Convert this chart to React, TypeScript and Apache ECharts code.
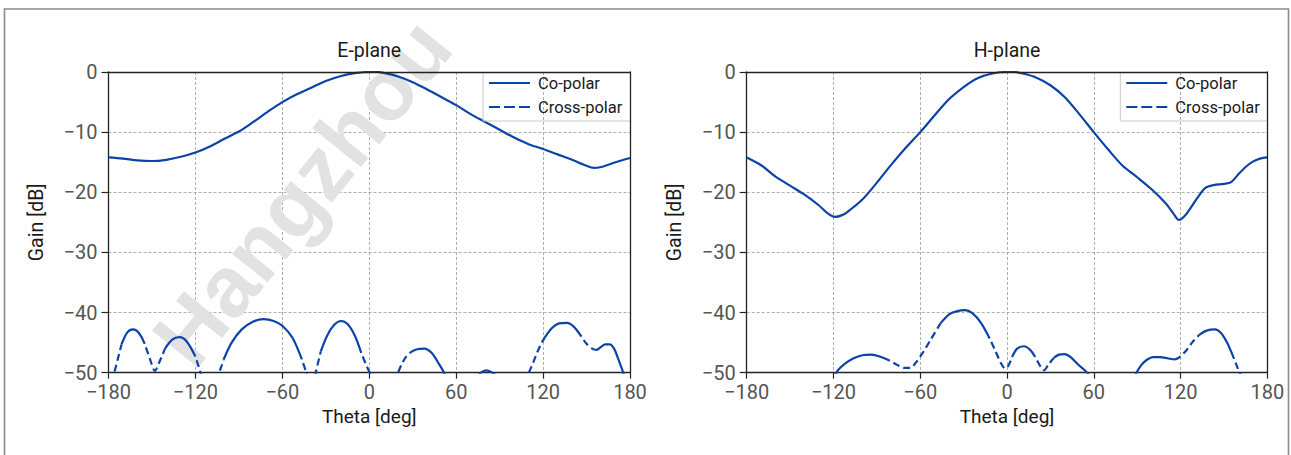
import React, { useEffect, useRef } from "react";
import * as echarts from "echarts";

// ---------- data ----------
const planeTitles = ["E-plane", "H-plane"];
const legendNames = ["Co-polar", "Cross-polar"];

const eCoPolar: [number, number][] = [
  [-180, -14.2], [-170, -14.4], [-160, -14.7], [-150, -14.8], [-140, -14.6],
  [-130, -14.1], [-120, -13.4], [-110, -12.4], [-100, -11.1], [-90, -9.9],
  [-80, -8.3], [-70, -6.6], [-60, -5.0], [-50, -3.7], [-40, -2.6],
  [-30, -1.5], [-20, -0.7], [-10, -0.2], [0, 0], [5, 0], [10, -0.15],
  [20, -0.75], [30, -1.7], [40, -2.9], [50, -4.2], [60, -5.5], [70, -7.0],
  [80, -8.3], [90, -9.6], [100, -10.9], [110, -12.0], [120, -12.8],
  [130, -13.7], [140, -14.6], [150, -15.6], [155, -15.95], [160, -15.8],
  [170, -15.0], [180, -14.3],
];

const eCrossPolar: [number, number][] = [
  [-180, -54], [-176, -50], [-171, -45.3], [-167, -43.3], [-163, -42.8],
  [-159, -43.4], [-155, -45.2], [-151, -48.0], [-148, -49.7], [-145, -48.3],
  [-141, -46.0], [-136, -44.5], [-131, -44.1], [-126, -44.8], [-120, -47.3],
  [-118, -48.8], [-116, -50.4], [-110, -55], [-104, -50.3], [-102, -48.9],
  [-100.5, -47.8], [-95, -45.0], [-88, -42.8], [-80, -41.5], [-73, -41.1],
  [-66, -41.4], [-60, -42.2], [-53, -44.2], [-46.5, -47.8], [-43.5, -50],
  [-40, -53], [-37, -50], [-33.5, -46.5], [-29, -43.8], [-24, -42.0],
  [-19.5, -41.4], [-15, -41.9], [-10, -43.8], [-5.5, -46.7], [-2.5, -48.5],
  [0.5, -50.1], [10, -58], [19, -50.5], [22, -48.8], [25, -47.5],
  [28.5, -46.6], [33, -46.1], [38, -46.0], [43, -46.7], [48, -48.5],
  [52, -50.2], [63, -57], [74, -51], [77, -50], [81, -49.6], [85, -50],
  [89, -51], [99, -57], [109, -50.6], [112, -49], [115, -47.2], [118, -45.5],
  [121, -44.2], [126, -42.6], [131, -41.8], [136.5, -41.7], [141, -42.3],
  [146.5, -44.0], [150, -45.2], [154.5, -46.1], [157, -46.2], [160, -45.7],
  [163, -45.3], [166, -45.3], [169, -46.0], [172, -47.8], [175.7, -50.3],
  [180, -55],
];
// theta ranges where the cross-polar trace shows as dashes
const eCrossDashed: [number, number][] = [
  [-180, -171], [-155, -141], [-120, -116], [-104, -100.5], [-46.5, -33.5],
  [-5.5, 0.5], [19, 28.5], [109, 121], [146.5, 154.5],
];

const hCoPolar: [number, number][] = [
  [-180, -14.2], [-170, -15.5], [-160, -17.4], [-150, -18.9], [-140, -20.4],
  [-130, -22.2], [-124, -23.5], [-119, -24.1], [-114, -23.8], [-110, -23.2],
  [-100, -21.2], [-90, -18.4], [-80, -15.4], [-70, -12.6], [-60, -10.0],
  [-50, -7.2], [-40, -4.5], [-30, -2.5], [-20, -1.0], [-10, -0.25], [0, 0],
  [5, 0], [10, -0.2], [20, -0.9], [30, -2.2], [40, -4.2], [50, -7.0],
  [60, -10.0], [70, -12.9], [80, -15.6], [90, -17.5], [100, -19.5],
  [110, -21.9], [115, -23.5], [119, -24.6], [123, -23.9], [127, -22.6],
  [132, -20.8], [137, -19.3], [143, -18.8], [150, -18.6], [155, -18.3],
  [160, -17.0], [165, -15.8], [170, -14.9], [175, -14.4], [180, -14.2],
];

const hCrossPolar: [number, number][] = [
  [-130, -58], [-118, -50], [-112, -48.5], [-106, -47.6], [-100, -47.1],
  [-94, -47.0], [-88, -47.3], [-81, -48.0], [-76, -48.7], [-71, -49.2],
  [-67, -49.2], [-63, -48.3], [-58, -46.6], [-53, -44.6], [-46, -41.8],
  [-40, -40.3], [-35, -39.8], [-29, -39.6], [-24, -40.1], [-18, -41.7],
  [-12, -44.3], [-8, -46.4], [-4, -48.5], [-1.2, -49.3], [1, -48.8],
  [3.5, -47.4], [7, -46.0], [11.7, -45.6], [16, -46.2], [19.5, -47.4],
  [23, -48.9], [25.7, -49.6], [28.5, -48.7], [32.5, -47.5], [36, -47.0],
  [39.8, -46.9], [44, -47.4], [49, -48.6], [56, -50.2], [72, -58],
  [89, -50.2], [93, -48.7], [97, -47.8], [101, -47.4], [106, -47.4],
  [111, -47.6], [116, -47.8], [120, -47.3], [124, -46.3], [128, -45.0],
  [133, -43.7], [138, -43.0], [143.8, -42.8], [148, -43.4], [152, -44.9],
  [155, -46.5], [157, -47.7], [159.5, -49.2], [162, -50.5], [168, -56],
];
const hCrossDashed: [number, number][] = [
  [-81, -46], [-12, 3.5], [19.5, 32.5], [120, 133], [157, 162],
];

const thetaMin = -180;
const thetaMax = 180;
const thetaStep = 60;
const gainMin = -50;
const gainMax = 0;
const gainStep = 10;

// ---------- styling / layout ----------
const FONT = "Roboto, 'Liberation Sans', sans-serif";
const BLUE = "#0b43a8";
const INK = "#1a1a1a";
const TICK_GREY = "#555555";
const GRIDS = [
  { left: 108.5, top: 72, width: 521.5, height: 300.7 },
  { left: 746.7, top: 72, width: 520.6, height: 300.7 },
];
const SOLID_ICON = "path://M0,0h41v2.2h-41z";
const DASH_ICON = "path://M0,0h11v2.2h-11zM15,0h11v2.2h-11zM30,0h11v2.2h-11z";

function splitByRanges(points: [number, number][], ranges: [number, number][]) {
  const inside = (t: number) => ranges.some(([a, b]) => t >= a && t <= b);
  const strictly = (t: number) => ranges.some(([a, b]) => t > a && t < b);
  const solid = points.map(([t, v]) => (strictly(t) ? [t, "-"] : [t, v]));
  const dashed = points.map(([t, v]) => (inside(t) ? [t, v] : [t, "-"]));
  return { solid, dashed };
}

const fmt = (v: number) => (v < 0 ? "\u2212" + Math.abs(v) : String(v));

export default function App() {
  const ref = useRef<HTMLDivElement>(null);

  useEffect(() => {
    if (!ref.current) return;
    const chart = echarts.init(ref.current, undefined, { renderer: "svg" });

    const planes = [
      { co: eCoPolar, cross: eCrossPolar, dashed: eCrossDashed },
      { co: hCoPolar, cross: hCrossPolar, dashed: hCrossDashed },
    ];

    const xAxis: any[] = [];
    const yAxis: any[] = [];
    const series: any[] = [];
    const legend: any[] = [];
    const graphic: any[] = [];

    planes.forEach((p, i) => {
      const g = GRIDS[i];
      xAxis.push({
        gridIndex: i,
        type: "value",
        min: thetaMin,
        max: thetaMax,
        interval: thetaStep,
        name: "Theta [deg]",
        nameLocation: "middle",
        nameGap: 34,
        nameTextStyle: { fontFamily: FONT, fontSize: 19, color: INK },
        axisLine: { show: true, onZero: false, lineStyle: { color: "#222", width: 1.3 } },
        axisTick: { show: true, length: 6, lineStyle: { color: "#222", width: 1.2 } },
        axisLabel: { fontFamily: FONT, fontSize: 20, color: TICK_GREY, margin: 9, formatter: fmt },
        splitLine: { show: true, lineStyle: { color: "#9a9a9a", width: 0.8, type: [3, 2] } },
      });
      xAxis.push({
        gridIndex: i,
        type: "value",
        position: "top",
        min: thetaMin,
        max: thetaMax,
        z: 10,
        axisLine: { show: true, onZero: false, lineStyle: { color: "#222", width: 1.3 } },
        axisTick: { show: false },
        axisLabel: { show: false },
        splitLine: { show: false },
      });
      yAxis.push({
        gridIndex: i,
        type: "value",
        min: gainMin,
        max: gainMax,
        interval: gainStep,
        name: "Gain [dB]",
        nameLocation: "middle",
        nameGap: 62,
        nameRotate: 90,
        nameTextStyle: { fontFamily: FONT, fontSize: 19.5, color: INK },
        axisLine: { show: true, onZero: false, lineStyle: { color: "#222", width: 1.3 } },
        axisTick: { show: true, length: 7, lineStyle: { color: "#222", width: 1.2 } },
        axisLabel: { fontFamily: FONT, fontSize: 20, color: TICK_GREY, margin: 11, formatter: fmt },
        splitLine: { show: true, lineStyle: { color: "#9a9a9a", width: 0.8, type: [3, 2] } },
      });
      yAxis.push({
        gridIndex: i,
        type: "value",
        position: "right",
        min: gainMin,
        max: gainMax,
        z: 10,
        axisLine: { show: true, onZero: false, lineStyle: { color: "#222", width: 1.3 } },
        axisTick: { show: false },
        axisLabel: { show: false },
        splitLine: { show: false },
      });

      const { solid, dashed } = splitByRanges(p.cross, p.dashed);
      series.push({
        name: legendNames[0],
        type: "line",
        xAxisIndex: i * 2,
        yAxisIndex: i * 2,
        data: p.co,
        smooth: 0.3,
        symbol: "none",
        clip: true,
        lineStyle: { color: BLUE, width: 2.2 },
        itemStyle: { color: BLUE },
        z: 3,
      });
      series.push({
        name: legendNames[1],
        type: "line",
        xAxisIndex: i * 2,
        yAxisIndex: i * 2,
        data: dashed,
        smooth: 0.3,
        symbol: "none",
        clip: true,
        connectNulls: false,
        lineStyle: { color: BLUE, width: 2.2, type: [7, 4], dashOffset: 7 },
        itemStyle: { color: BLUE },
        z: 3,
      });
      series.push({
        name: legendNames[1],
        type: "line",
        xAxisIndex: i * 2,
        yAxisIndex: i * 2,
        data: solid,
        smooth: 0.3,
        symbol: "none",
        clip: true,
        connectNulls: false,
        lineStyle: { color: BLUE, width: 2.2 },
        itemStyle: { color: BLUE },
        z: 3,
      });

      const boxLeft = g.left + g.width - 147;
      legend.push({
        orient: "vertical",
        left: boxLeft + 6,
        top: g.top + 1,
        padding: 0,
        itemGap: 4,
        itemWidth: 41,
        itemHeight: 2.2,
        selectedMode: false,
        textStyle: { fontFamily: FONT, fontSize: 16.5, color: INK, lineHeight: 20, padding: [0, 0, 0, 3] },
        data: [
          { name: legendNames[0], icon: SOLID_ICON, itemStyle: { color: BLUE } },
          { name: legendNames[1], icon: DASH_ICON, itemStyle: { color: BLUE } },
        ],
      });
      graphic.push({
        type: "polyline",
        z: 5,
        shape: {
          points: [
            [boxLeft, g.top],
            [boxLeft, g.top + 49],
            [g.left + g.width, g.top + 49],
          ],
        },
        style: { stroke: "#c8c8c8", lineWidth: 1, fill: "none" },
      });
    });

    graphic.push({
      type: "rect",
      z: 0,
      shape: { x: 4.5, y: 9, width: 1284, height: 470 },
      style: { stroke: "#8a8a8a", lineWidth: 1.6, fill: "none" },
    });
    graphic.push({
      type: "text",
      z: 1,
      x: 302,
      y: 192,
      rotation: (51 * Math.PI) / 180,
      style: {
        text: "Hangzhou",
        fill: "#e2e2e2",
        font: "bold 86px 'Liberation Sans', Arial, sans-serif",
        lineHeight: 66,
        align: "center",
        verticalAlign: "middle",
      },
    });

    const option: any = {
      animation: false,
      backgroundColor: "#ffffff",
      textStyle: { fontFamily: FONT },
      title: planeTitles.map((t, i) => ({
        text: t,
        left: GRIDS[i].left + GRIDS[i].width / 2,
        top: 40,
        textAlign: "center",
        padding: 0,
        textStyle: { fontFamily: FONT, fontSize: 19.5, fontWeight: "normal", color: INK },
      })),
      grid: GRIDS.map((g) => ({ ...g, containLabel: false })),
      xAxis,
      yAxis,
      legend,
      series,
      graphic,
    };

    chart.setOption(option);
    return () => chart.dispose();
  }, []);

  return (
    <div
      ref={ref}
      style={{ position: "absolute", left: 0, top: 0, width: 1291, height: 455, background: "#fff" }}
    />
  );
}
